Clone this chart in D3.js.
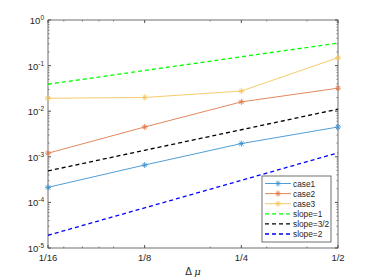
<!DOCTYPE html>
<html>
<head>
<meta charset="utf-8">
<script src="https://cdn.jsdelivr.net/npm/d3@7"></script>
<style>
  body { margin: 0; background: #fff; }
  svg { font-family: "Liberation Sans", Arial, sans-serif; }
</style>
</head>
<body>
<div id="chart"></div>
<script>
const stepSizes=[1/16, 1/8, 1/4, 1/2];
const stepLabels=["1/16", "1/8", "1/4", "1/2"];
const case1=[2.14e-4, 6.6e-4, 1.95e-3, 4.5e-3];
const case2=[1.2e-3, 4.5e-3, 1.6e-2, 3.2e-2];
const case3=[1.92e-2, 2.0e-2, 2.77e-2, 0.149];
const slope1=[0.039, 0.078, 0.156, 0.312];
const slope32=[4.9e-4, 1.39e-3, 3.92e-3, 1.11e-2];
const slope2=[1.9e-5, 7.6e-5, 3.04e-4, 1.22e-3];
const yTickExps=[0, -1, -2, -3, -4, -5];
const xMinorTicks=[0.07, 0.08, 0.09, 0.1, 0.2, 0.3, 0.4];

const width=374, height=280;
const margin={top: 20, right: 36, bottom: 32, left: 48};

const svg=d3.select("#chart").append("svg")
    .attr("width", width)
    .attr("height", height);

const x=d3.scaleLog().base(2)
    .domain([1/16, 1/2])
    .range([margin.left, width-margin.right]);

const y=d3.scaleLog()
    .domain([1e-5, 1])
    .range([height-margin.bottom, margin.top]);

const axisColor="#4d4d4d";

// minor y ticks: 2..9 per decade
const yMinor=[];
for (let e=-5; e<0; e++) {
    for (let k=2; k<=9; k++) yMinor.push(k*Math.pow(10, e));
}

const g=svg.append("g");

// box
g.append("rect")
    .attr("x", x.range()[0]).attr("y", y.range()[1])
    .attr("width", x.range()[1]-x.range()[0])
    .attr("height", y.range()[0]-y.range()[1])
    .attr("fill", "none")
    .attr("stroke", axisColor)
    .attr("stroke-width", 0.8);

const x0=x.range()[0], x1=x.range()[1], y0=y.range()[0], y1=y.range()[1];

// y ticks on left and right
yTickExps.forEach(e => {
    const yy=y(Math.pow(10, e));
    g.append("line").attr("x1", x0).attr("x2", x0+3).attr("y1", yy).attr("y2", yy).attr("stroke", axisColor);
    g.append("line").attr("x1", x1).attr("x2", x1-3).attr("y1", yy).attr("y2", yy).attr("stroke", axisColor);
});
yMinor.forEach(v => {
    const yy=y(v);
    g.append("line").attr("x1", x0).attr("x2", x0+1.6).attr("y1", yy).attr("y2", yy).attr("stroke", axisColor).attr("stroke-width", 0.6);
    g.append("line").attr("x1", x1).attr("x2", x1-1.6).attr("y1", yy).attr("y2", yy).attr("stroke", axisColor).attr("stroke-width", 0.6);
});

// x ticks on bottom and top
stepSizes.forEach(v => {
    const xx=x(v);
    g.append("line").attr("x1", xx).attr("x2", xx).attr("y1", y0).attr("y2", y0-3).attr("stroke", axisColor);
    g.append("line").attr("x1", xx).attr("x2", xx).attr("y1", y1).attr("y2", y1+3).attr("stroke", axisColor);
});
xMinorTicks.forEach(v => {
    const xx=x(v);
    g.append("line").attr("x1", xx).attr("x2", xx).attr("y1", y0).attr("y2", y0-1.6).attr("stroke", axisColor).attr("stroke-width", 0.6);
    g.append("line").attr("x1", xx).attr("x2", xx).attr("y1", y1).attr("y2", y1+1.6).attr("stroke", axisColor).attr("stroke-width", 0.6);
});

// y tick labels
yTickExps.forEach(e => {
    const t=g.append("text")
        .attr("x", x0-4)
        .attr("y", y(Math.pow(10, e))+4)
        .attr("text-anchor", "end")
        .attr("font-size", 9.5)
        .attr("fill", "#262626");
    t.append("tspan").text("10");
    t.append("tspan").attr("dy", -4).attr("font-size", 6.5).text(e);
});

// x tick labels
stepSizes.forEach((v, i) => {
    g.append("text")
        .attr("x", x(v))
        .attr("y", y0+13)
        .attr("text-anchor", "middle")
        .attr("font-size", 9.5)
        .attr("fill", "#262626")
        .text(stepLabels[i]);
});

// x label
const xl=g.append("text")
    .attr("x", (x0+x1)/2)
    .attr("y", y0+27)
    .attr("text-anchor", "middle")
    .attr("font-size", 10)
    .attr("fill", "#262626");
xl.append("tspan").text("Δ ");
xl.append("tspan").attr("font-style", "italic").attr("font-family", "DejaVu Serif, serif").text("μ");

const series=[
    {name: "case1", values: case1, color: "#3d93d0", dash: null, marker: true, width: 0.9},
    {name: "case2", values: case2, color: "#e07a4c", dash: null, marker: true, width: 0.9},
    {name: "case3", values: case3, color: "#f3c55a", dash: null, marker: true, width: 0.9},
    {name: "slope=1", values: slope1, color: "#00ff00", dash: "4,3", marker: false, width: 1.3},
    {name: "slope=3/2", values: slope32, color: "#000000", dash: "4,3", marker: false, width: 1.3},
    {name: "slope=2", values: slope2, color: "#0000ff", dash: "4,3", marker: false, width: 1.3}
];

const line=d3.line()
    .x((d, i) => x(stepSizes[i]))
    .y(d => y(d));

function star (sel, cx, cy, color) {
    const r=3;
    const s=sel.append("g").attr("transform", `translate(${cx},${cy})`)
        .attr("stroke", color).attr("stroke-width", 0.9);
    s.append("line").attr("x1", -r).attr("x2", r).attr("y1", 0).attr("y2", 0);
    s.append("line").attr("x1", 0).attr("x2", 0).attr("y1", -r).attr("y2", r);
    s.append("line").attr("x1", -r*0.7).attr("x2", r*0.7).attr("y1", -r*0.7).attr("y2", r*0.7);
    s.append("line").attr("x1", -r*0.7).attr("x2", r*0.7).attr("y1", r*0.7).attr("y2", -r*0.7);
}

series.forEach(s => {
    g.append("path")
        .datum(s.values)
        .attr("d", line)
        .attr("fill", "none")
        .attr("stroke", s.color)
        .attr("stroke-width", s.width)
        .attr("stroke-dasharray", s.dash);
    if (s.marker) {
        s.values.forEach((v, i) => star(g, x(stepSizes[i]), y(v), s.color));
    }
});

// legend
const lx=262, ly=176, lw=69, lh=66;
const leg=svg.append("g");
leg.append("rect")
    .attr("x", lx).attr("y", ly).attr("width", lw).attr("height", lh)
    .attr("fill", "#fff").attr("stroke", axisColor).attr("stroke-width", 0.8);
series.forEach((s, i) => {
    const yy=ly+7.5+i*10.1;
    leg.append("line")
        .attr("x1", lx+3).attr("x2", lx+29)
        .attr("y1", yy).attr("y2", yy)
        .attr("stroke", s.color)
        .attr("stroke-width", s.width)
        .attr("stroke-dasharray", s.dash);
    if (s.marker) star(leg, lx+16, yy, s.color);
    leg.append("text")
        .attr("x", lx+31)
        .attr("y", yy+3.2)
        .attr("font-size", 8.3)
        .attr("fill", "#262626")
        .text(s.name);
});
</script>
</body>
</html>
